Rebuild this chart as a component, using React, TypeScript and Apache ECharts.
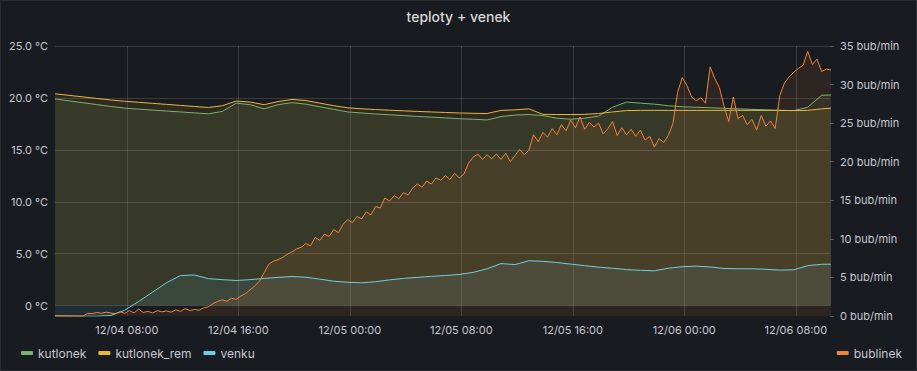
import React, { useEffect, useRef } from "react";
import * as echarts from "echarts";

// Time is in hours after 12/04 00:00
const START_HOUR = 2.85;
const TEMP_STEP_H = 1;
const BUB_STEP_H = 1 / 3;
const X_MIN = 2.85;
const X_MAX = 58.45;
const X_TICK_H = 8;

const SERIES_NAMES = ["kutlonek", "kutlonek_rem", "venku", "bublinek"];
const COLORS = ["#7EB26D", "#EAB839", "#6ED0E0", "#EF843C"];

// °C, hourly
const kutlonek = [
  19.9, 19.72, 19.54, 19.36, 19.18, 19.02, 18.92, 18.83, 18.74, 18.65, 18.56, 18.47,
  18.7, 19.5, 19.35, 18.95, 19.35, 19.55, 19.4, 19.15, 18.9, 18.65, 18.55, 18.45,
  18.38, 18.3, 18.22, 18.15, 18.08, 18.0, 17.95, 17.88, 18.2, 18.35, 18.4, 18.3,
  18.05, 17.95, 18.05, 18.25, 19.1, 19.6, 19.5, 19.4, 19.25, 19.15, 19.1, 19.05,
  19.0, 18.95, 18.9, 18.85, 18.8, 18.78, 19.1, 20.25, 20.3,
];

// °C, hourly
const kutlonekRem = [
  20.4, 20.25, 20.1, 19.95, 19.8, 19.68, 19.58, 19.48, 19.38, 19.28, 19.18, 19.08,
  19.25, 19.7, 19.6, 19.35, 19.65, 19.85, 19.75, 19.5, 19.25, 19.05, 18.95, 18.88,
  18.82, 18.76, 18.7, 18.65, 18.6, 18.55, 18.52, 18.5, 18.8, 18.85, 18.95, 18.42,
  18.4, 18.4, 18.42, 18.5, 18.65, 18.78, 18.8, 18.8, 18.8, 18.8, 18.8, 18.8,
  18.8, 18.8, 18.8, 18.8, 18.8, 18.78, 18.8, 18.95, 19.05,
];

// °C, hourly
const venku = [
  -0.98, -1.0, -1.02, -1.02, -0.95, -0.45, 0.4, 1.3, 2.2, 2.9, 2.95, 2.6,
  2.5, 2.42, 2.5, 2.62, 2.72, 2.8, 2.73, 2.55, 2.35, 2.25, 2.2, 2.3,
  2.48, 2.62, 2.72, 2.82, 2.9, 3.0, 3.2, 3.55, 4.05, 3.95, 4.32, 4.27,
  4.15, 4.0, 3.85, 3.7, 3.6, 3.47, 3.4, 3.35, 3.6, 3.75, 3.8, 3.72,
  3.58, 3.55, 3.55, 3.5, 3.42, 3.45, 3.85, 3.98, 4.0,
];

// bub/min, every 20 minutes
const bublinek = [
  0, 0, 0, 0, 0, 0, 0,
  0.35, 0.3, 0.45, 0.35, 0.5, 0.4, 0.3, 0.55, 0.35, 0.7, 0.4, 0.9, 0.45, 0.6, 0.4, 0.7,
  0.55, 0.65, 0.5, 0.8, 0.6, 0.95, 0.7, 0.85, 0.75, 1.05,
  1.2, 1.6, 1.9, 2.1, 1.9, 2.3, 2.15, 2.6, 2.9, 3.4, 3.9, 4.5, 5.6, 6.7, 7.1, 7.3,
  7.6, 8.0, 8.3, 8.7, 8.9, 9.4, 9.1, 10.2, 9.8, 10.6, 10.3, 11.2, 10.8, 11.9,
  12.5, 12.1, 12.9, 12.6, 13.5, 13.1, 14.2, 14.0, 15.3, 14.9, 15.6, 15.2, 16.0,
  15.7, 16.6, 17.1, 16.7, 17.5, 17.1, 17.9, 17.6, 18.2, 17.7, 18.5, 17.9, 18.4,
  19.8, 20.6, 21.0, 20.3, 20.9, 20.4, 21.0, 20.3, 21.1, 20.0, 20.8, 21.6, 20.9,
  21.5, 23.5, 22.6, 23.8, 23.2, 24.3, 23.5, 24.8, 24.0, 25.4, 24.4, 25.8, 24.2,
  25.1, 24.5, 25.0, 23.6, 24.3, 25.2, 23.4, 24.4, 23.5, 24.2, 23.3, 24.1, 22.8,
  23.3, 21.9, 23.0, 22.5, 23.4,
  25.0, 29.0, 30.9, 29.9, 28.4, 27.9, 28.3, 27.6, 32.3, 30.8, 29.6, 27.2, 25.2,
  28.4, 25.6, 26.0, 24.8, 25.5, 24.1, 26.0, 24.6, 25.3, 24.3, 28.6, 30.2, 31.0,
  31.6, 32.1, 32.5, 34.3, 32.6, 33.3, 31.7, 32.0, 31.9,
];

const LEFT_MIN = -1;
const LEFT_MAX = 25;
const LEFT_TICK = 5;
const RIGHT_MIN = 0;
const RIGHT_MAX = 35;
const RIGHT_TICK = 5;

const toPairs = (vals: number[], step: number) =>
  vals.map((v, i) => [START_HOUR + i * step, v]);

const pad2 = (n: number) => (n < 10 ? "0" + n : "" + n);

const fmtTime = (h: number) => {
  const r = Math.round(h * 1000) / 1000;
  if (Math.abs(r / X_TICK_H - Math.round(r / X_TICK_H)) > 1e-6) return "";
  const day = 4 + Math.floor(r / 24);
  const hour = Math.round(r - Math.floor(r / 24) * 24);
  return "12/" + pad2(day) + " " + pad2(hour) + ":00";
};

const fmtTemp = (v: number) => {
  const r = Math.round(v * 1000) / 1000;
  if (Math.abs(r / LEFT_TICK - Math.round(r / LEFT_TICK)) > 1e-6) return "";
  return r === 0 ? "0 °C" : r.toFixed(1) + " °C";
};

const TEXT = "#c7c8d0";
const FONT = "Inter";
const GRID_LINE = "rgba(204,204,220,0.19)";

export default function App() {
  const ref = useRef<HTMLDivElement>(null);
  useEffect(() => {
    if (!ref.current) return;
    const chart = echarts.init(ref.current, undefined, { renderer: "svg" });
    const dataSets = [
      toPairs(kutlonek, TEMP_STEP_H),
      toPairs(kutlonekRem, TEMP_STEP_H),
      toPairs(venku, TEMP_STEP_H),
      toPairs(bublinek, BUB_STEP_H),
    ];
    const legendCommon = {
      itemWidth: 12,
      itemHeight: 4,
      itemGap: 12,
      icon: "roundRect",
      textStyle: { color: TEXT, fontSize: 12, fontFamily: FONT },
    };
    chart.setOption({
      animation: false,
      backgroundColor: "transparent",
      title: {
        text: "teploty + venek",
        left: "center",
        top: 4,
        textStyle: { color: "#d8d9da", fontSize: 14, fontWeight: 500, fontFamily: FONT },
      },
      grid: { left: 55, right: 87, top: 46, bottom: 55 },
      legend: [
        { ...legendCommon, data: SERIES_NAMES.slice(0, 3), left: 16, top: 342 },
        { ...legendCommon, data: SERIES_NAMES.slice(3), right: 10, top: 342 },
      ],
      xAxis: {
        type: "value",
        min: X_MIN,
        max: X_MAX,
        minInterval: X_TICK_H,
        maxInterval: X_TICK_H,
        axisLine: { show: false },
        axisTick: { show: false },
        axisLabel: {
          color: TEXT,
          fontSize: 11,
          fontFamily: FONT,
          margin: 8,
          formatter: fmtTime,
          showMinLabel: false,
          showMaxLabel: false,
        },
        splitLine: {
          show: true,
          showMinLine: false,
          showMaxLine: false,
          lineStyle: { color: GRID_LINE, width: 1 },
        },
      },
      yAxis: [
        {
          type: "value",
          position: "left",
          min: LEFT_MIN,
          max: LEFT_MAX,
          minInterval: LEFT_TICK,
          maxInterval: LEFT_TICK,
          axisLine: { show: false },
          axisTick: { show: false },
          axisLabel: {
            color: TEXT,
            fontSize: 11,
            fontFamily: FONT,
            margin: 7,
            formatter: fmtTemp,
          },
          splitLine: {
            show: true,
            showMinLine: false,
            lineStyle: { color: GRID_LINE, width: 1 },
          },
        },
        {
          type: "value",
          position: "right",
          min: RIGHT_MIN,
          max: RIGHT_MAX,
          interval: RIGHT_TICK,
          axisLine: { show: false },
          axisTick: { show: true, length: 4, lineStyle: { color: "rgba(204,204,220,0.35)" } },
          axisLabel: {
            color: TEXT,
            fontSize: 11,
            fontFamily: FONT,
            margin: 10,
            formatter: (v: number) => v + " bub/min",
          },
          splitLine: { show: false },
        },
      ],
      series: SERIES_NAMES.map((name, i) => ({
        name,
        type: "line",
        yAxisIndex: i === 3 ? 1 : 0,
        data: dataSets[i],
        showSymbol: false,
        symbol: "none",
        clip: i !== 3,
        color: COLORS[i],
        lineStyle: { width: 1, color: COLORS[i] },
        areaStyle: { color: COLORS[i], opacity: 0.1 },
        itemStyle: { color: COLORS[i] },
        emphasis: { disabled: true },
      })),
    });
    return () => chart.dispose();
  }, []);
  return (
    <div
      style={{
        position: "fixed",
        left: 0,
        top: 0,
        width: 917,
        height: 371,
        background: "#181b1f",
        boxShadow: "inset 0 0 0 1px rgba(204,204,220,0.1)",
      }}
    >
      <div ref={ref} style={{ width: 917, height: 371 }} />
    </div>
  );
}
